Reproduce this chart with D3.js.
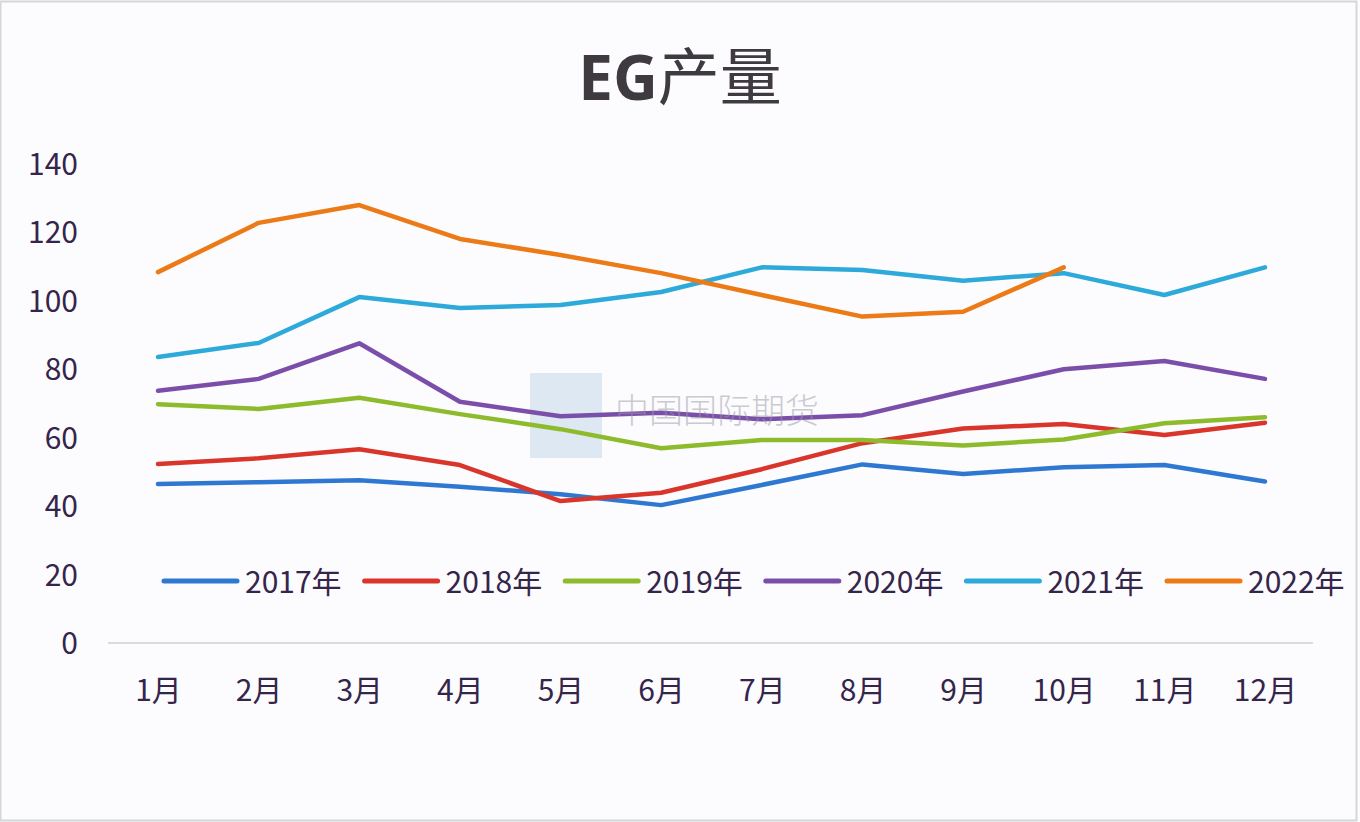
<!DOCTYPE html>
<html><head><meta charset="utf-8">
<script src="https://cdn.jsdelivr.net/npm/d3@7"></script>
<style>
html,body{margin:0;padding:0;background:#fff;}
svg{display:block;}
</style></head>
<body>
<script>
const months = ["1月","2月","3月","4月","5月","6月","7月","8月","9月","10月","11月","12月"];
const years = ["2017年","2018年","2019年","2020年","2021年","2022年"];
const colors = ["#2F78D2","#D9352B","#8DBB2C","#7B4FA9","#2DAAD9","#EC7A16"];
const s2017 = [46.5,47.0,47.6,45.7,43.5,40.3,46.2,52.2,49.4,51.4,52.0,47.2];
const s2018 = [52.3,54.0,56.6,52.0,41.5,43.9,50.8,58.4,62.7,64.0,60.8,64.4];
const s2019 = [69.8,68.4,71.7,66.9,62.5,56.9,59.3,59.3,57.7,59.5,64.2,66.0];
const s2020 = [73.7,77.2,87.6,70.5,66.3,67.3,65.4,66.6,73.5,80.0,82.4,77.2];
const s2021 = [83.6,87.7,101.1,97.9,98.8,102.6,109.8,109.0,105.9,108.1,101.7,109.8];
const s2022 = [108.4,122.8,128.0,118.1,113.4,108.1,101.7,95.4,96.8,109.8,null,null];
const yTicks = [0,20,40,60,80,100,120,140];
const series = [s2017,s2018,s2019,s2020,s2021,s2022];

const W=1360,H=822;
const svg=d3.select("body").append("svg").attr("width",W).attr("height",H);
svg.append("rect").attr("x",0).attr("y",0).attr("width",W).attr("height",H).attr("fill","#fcfcfe");
svg.append("rect").attr("x",0.5).attr("y",1.5).attr("width",W-4).attr("height",H-3).attr("fill","none").attr("stroke","#d4d6d8").attr("stroke-width",2);

const font="'Liberation Sans Narrow', 'Noto Sans CJK SC', sans-serif";
const textColor="#35254a";

const title=svg.append("text").attr("x",680).attr("y",100).attr("text-anchor","middle")
  .attr("font-family","'Noto Sans CJK SC', sans-serif").attr("font-size",62).attr("fill","#3f3a40");
title.append("tspan").attr("font-family","'Open Sans', sans-serif").attr("font-weight",700).text("EG");
title.append("tspan").attr("font-weight",400).text("产量");

const x=d3.scalePoint().domain(months).range([158,1265]);
const y=d3.scaleLinear().domain([0,140]).range([643,164]);

// watermark
svg.append("rect").attr("x",530).attr("y",373).attr("width",72).attr("height",85).attr("fill","#d6e2f0").attr("opacity",0.8);

const yAxis=svg.append("g").attr("transform","translate(78,0)")
  .call(d3.axisLeft(y).tickValues(yTicks).tickSize(0).tickPadding(0));
yAxis.select(".domain").remove();
yAxis.selectAll("text").attr("font-family",font).attr("font-size",30).attr("fill",textColor).attr("dy","0.35em");

svg.append("line").attr("x1",108).attr("x2",1313).attr("y1",643).attr("y2",643).attr("stroke","#d0d0d4").attr("stroke-width",1.5);

const xAxis=svg.append("g").attr("transform","translate(0,690)")
  .call(d3.axisBottom(x).tickSize(0).tickPadding(0));
xAxis.select(".domain").remove();
xAxis.selectAll("text").attr("font-family",font).attr("font-size",30).attr("fill",textColor).attr("dy","0.35em");

const line=d3.line().defined(d=>d!=null).x((d,i)=>x(months[i])).y(d=>y(d));
series.forEach((s,k)=>{
  svg.append("path").datum(s).attr("d",line).attr("fill","none")
    .attr("stroke",colors[k]).attr("stroke-width",4.5).attr("stroke-linejoin","round").attr("stroke-linecap","round");
});

svg.append("text").attr("x",615).attr("y",423).attr("font-family","'Noto Sans CJK SC', sans-serif").attr("font-size",34)
  .attr("font-weight",300).attr("fill","#9a9aa6").attr("opacity",0.5).text("中国国际期货");

// legend
const legX=d3.scalePoint().domain(years).range([164,1167]);
const leg=svg.append("g");
years.forEach((yr,k)=>{
  const gx=legX(yr);
  leg.append("line").attr("x1",gx).attr("x2",gx+73).attr("y1",581).attr("y2",581)
    .attr("stroke",colors[k]).attr("stroke-width",5).attr("stroke-linecap","round");
  leg.append("text").attr("x",gx+81).attr("y",582).attr("dy","0.35em").attr("font-family",font)
    .attr("font-size",30).attr("fill",textColor).text(yr);
});
</script>
</body></html>
